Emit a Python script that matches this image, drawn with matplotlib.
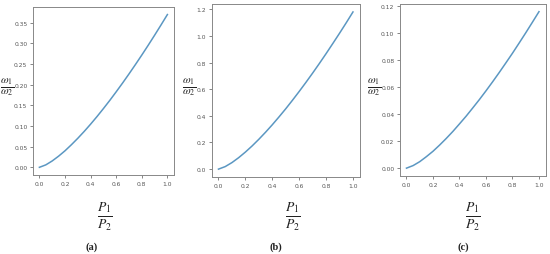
import matplotlib
matplotlib.use("Agg")
import matplotlib.pyplot as plt

plt.rcParams['mathtext.fontset'] = 'stix'

ratio_p = [0.00, 0.05, 0.10, 0.15, 0.20, 0.25, 0.30, 0.35, 0.40, 0.45, 0.50,
           0.55, 0.60, 0.65, 0.70, 0.75, 0.80, 0.85, 0.90, 0.95, 1.00]
omega_a = [0.0, 0.0059, 0.0154, 0.0270, 0.0400, 0.0547, 0.0703, 0.0869, 0.1045, 0.1229, 0.1422,
           0.1621, 0.1829, 0.2042, 0.2262, 0.2488, 0.2719, 0.2956, 0.3199, 0.3447, 0.3700]
omega_b = [0.0, 0.019, 0.049, 0.086, 0.128, 0.174, 0.224, 0.277, 0.333, 0.392, 0.453,
           0.517, 0.583, 0.651, 0.721, 0.793, 0.867, 0.943, 1.020, 1.099, 1.180]
omega_c = [0.0, 0.0019, 0.0048, 0.0085, 0.0125, 0.0171, 0.0220, 0.0272, 0.0328, 0.0385, 0.0446,
           0.0508, 0.0573, 0.0640, 0.0709, 0.0780, 0.0852, 0.0927, 0.1003, 0.1081, 0.1160]

xticks = [0.0, 0.2, 0.4, 0.6, 0.8, 1.0]
yticks_a = [0.00, 0.05, 0.10, 0.15, 0.20, 0.25, 0.30, 0.35]
yticks_b = [0.0, 0.2, 0.4, 0.6, 0.8, 1.0, 1.2]
yticks_c = [0.00, 0.02, 0.04, 0.06, 0.08, 0.10, 0.12]
captions = ["(a)", "(b)", "(c)"]

fig = plt.figure(figsize=(5.5, 2.55), dpi=100)

panels = [
    dict(rect=[0.060, 0.310, 0.256, 0.659], y=omega_a, yt=yticks_a, fmt="{:.2f}",
         ylab=(7, 87), xlab=(105, 217), cap=(92, 247)),
    dict(rect=[0.385, 0.302, 0.269, 0.678], y=omega_b, yt=yticks_b, fmt="{:.1f}",
         ylab=(189, 87), xlab=(293, 217), cap=(276, 247)),
    dict(rect=[0.727, 0.306, 0.265, 0.675], y=omega_c, yt=yticks_c, fmt="{:.2f}",
         ylab=(374, 87), xlab=(473, 217), cap=(463, 247)),
]

for p, cap in zip(panels, captions):
    ax = fig.add_axes(p["rect"])
    ax.plot(ratio_p, p["y"], color="#5b97c2", lw=1.1)
    ax.set_xticks(xticks)
    ax.set_xticklabels(["{:.1f}".format(v) for v in xticks])
    ax.set_yticks(p["yt"])
    ax.set_yticklabels([p["fmt"].format(v) for v in p["yt"]])
    ax.tick_params(labelsize=4.3, colors="#555555", length=2, width=0.5, pad=2)
    for s in ax.spines.values():
        s.set_color("#888888")
        s.set_linewidth(0.7)
    yx, yy = p["ylab"]
    fig.text(yx / 550, 1 - yy / 255, r"$\frac{\omega_1}{\omega_2}$", fontsize=11.5,
             ha="center", va="center", color="#222222")
    xx, xy = p["xlab"]
    fig.text(xx / 550, 1 - xy / 255, r"$\frac{P_1}{P_2}$", fontsize=14,
             ha="center", va="center", color="#222222")
    cx, cy = p["cap"]
    fig.text(cx / 550, 1 - cy / 255, cap, fontsize=7.5, fontweight="bold",
             family="Liberation Serif", ha="center", va="center", color="#222222")

fig.savefig("out.png", dpi=100)
